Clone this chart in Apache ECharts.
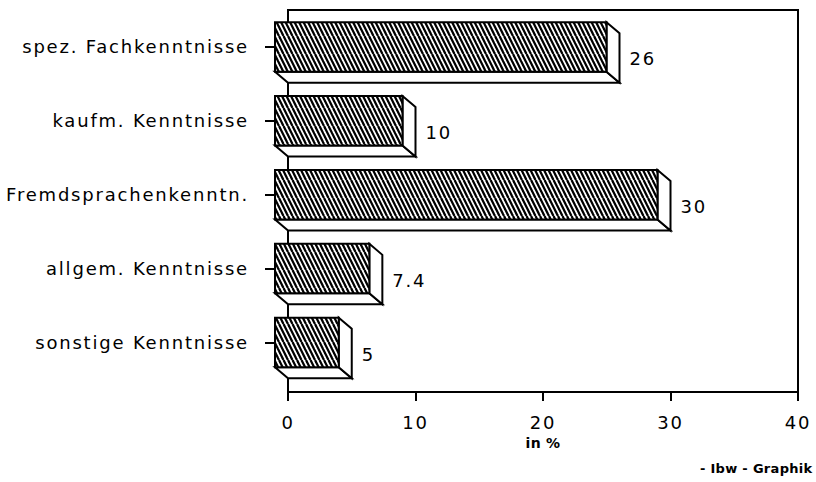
<!DOCTYPE html>
<html><head><meta charset="utf-8">
<script src="https://cdn.jsdelivr.net/npm/echarts@6/dist/echarts.min.js"></script>
<style>
html,body{margin:0;padding:0;background:#fff;}
#chart{width:816px;height:482px;}
#chart text{letter-spacing:1.8px;}
#chart text[style*="bold"]{letter-spacing:0.3px;}
</style></head><body><div id="chart"></div>
<script>
const categories = ['spez. Fachkenntnisse', 'kaufm. Kenntnisse', 'Fremdsprachenkenntn.', 'allgem. Kenntnisse', 'sonstige Kenntnisse'];
const values = [26, 10, 30, 7.4, 5];
const xMin = 0, xMax = 40, xInterval = 10;
const axisName = 'in %';
const footer = '- Ibw - Graphik';

function makeHatch() {
  const w = 9, h = 18, n = 2;
  const c = document.createElement('canvas');
  c.width = w; c.height = h;
  const g = c.getContext('2d');
  g.fillStyle = '#fff'; g.fillRect(0, 0, w, h);
  g.strokeStyle = '#000'; g.lineWidth = 2.3;
  const s = w / n;
  for (let k = -n; k <= n; k++) {
    g.beginPath(); g.moveTo(k * s, 0); g.lineTo(k * s + w, h); g.stroke();
  }
  return { image: c, repeat: 'repeat', imageWidth: w, imageHeight: h };
}
const hatch = makeHatch();
const idx = categories.map((c, i) => i);
const FONT = 'DejaVu Sans';

const chart = echarts.init(document.getElementById('chart'), null, { renderer: 'svg' });
chart.setOption({
  backgroundColor: '#fff',
  animation: false,
  title: {
    text: footer, right: 8, top: 462, padding: 0,
    textStyle: { fontSize: 13, fontWeight: 'bold', fontFamily: FONT, color: '#000' }
  },
  grid: { left: 288, right: 18, top: 10, bottom: 90, show: true, borderColor: '#000', borderWidth: 2, backgroundColor: 'transparent' },
  xAxis: {
    type: 'value', min: xMin, max: xMax, interval: xInterval,
    axisLine: { show: true, onZero: false, lineStyle: { color: '#000', width: 2 } },
    axisTick: { show: true, inside: false, length: 9, lineStyle: { color: '#000', width: 2 } },
    splitLine: { show: false },
    axisLabel: { color: '#000', fontSize: 18, fontFamily: FONT, margin: 21 },
    name: axisName, nameLocation: 'middle', nameGap: 44,
    nameTextStyle: { color: '#000', fontSize: 14, fontWeight: 'bold', fontFamily: FONT }
  },
  yAxis: {
    type: 'value', inverse: true, min: -0.5, max: 4.67,
    axisLine: { show: true, onZero: false, lineStyle: { color: '#000', width: 2 } },
    axisTick: { show: true, customValues: idx, length: 23, lineStyle: { color: '#000', width: 2 } },
    axisLabel: { customValues: idx, formatter: v => categories[Math.round(v)], margin: 39, color: '#000', fontSize: 18, fontFamily: FONT },
    splitLine: { show: false }
  },
  series: [{
    type: 'custom',
    clip: false,
    encode: { x: 0, y: 1 },
    data: values.map((v, i) => [v, i]),
    renderItem: function (params, api) {
      const v = api.value(0), i = api.value(1);
      const p0 = api.coord([0, i]);
      const p1 = api.coord([v, i]);
      const band = api.size([0, 1])[1];
      const half = band * 0.335;
      const dx = 13, dy = 11;
      const cy = p0[1];
      const fx0 = p0[0] - dx, fx1 = p1[0] - dx, fy0 = cy - half, fy1 = cy + half;
      const bx0 = p0[0], bx1 = p1[0], by0 = fy0 + dy, by1 = fy1 + dy;
      const line = { stroke: '#000', lineWidth: 2, fill: '#fff', lineJoin: 'miter' };
      return {
        type: 'group',
        children: [
          { type: 'polygon', shape: { points: [[fx0, fy1], [fx1, fy1], [bx1, by1], [bx0, by1]] }, style: line },
          { type: 'polygon', shape: { points: [[fx1, fy0], [bx1, by0], [bx1, by1], [fx1, fy1]] }, style: line },
          { type: 'rect', shape: { x: fx0, y: fy0, width: fx1 - fx0, height: fy1 - fy0 }, style: { fill: hatch, stroke: '#000', lineWidth: 2 } },
          { type: 'text', style: { text: String(v), x: bx1 + 10, y: (by0 + by1) / 2 + 1, fill: '#000', fontSize: 18, fontFamily: FONT, align: 'left', verticalAlign: 'middle' } }
        ]
      };
    }
  }]
});
</script></body></html>
